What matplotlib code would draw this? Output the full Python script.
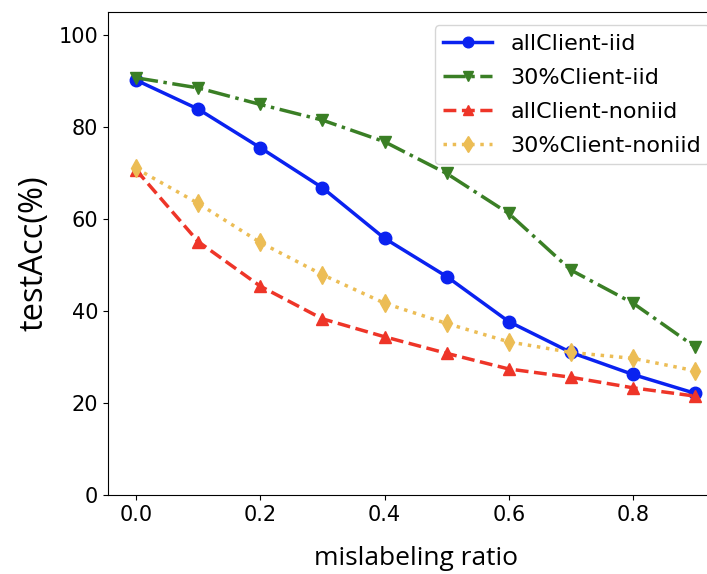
import numpy as np
import matplotlib.pyplot as plt

ratio = [0.0, 0.1, 0.2, 0.3, 0.4, 0.5, 0.6, 0.7, 0.8, 0.9]
all_iid = [90.2, 83.9, 75.5, 66.8, 55.8, 47.5, 37.7, 31.0, 26.2, 22.1]
part_iid = [90.7, 88.5, 84.9, 81.5, 76.8, 69.9, 61.2, 48.9, 41.7, 32.2]
all_noniid = [70.7, 55.1, 45.4, 38.3, 34.4, 30.8, 27.4, 25.6, 23.3, 21.5]
part_noniid = [71.0, 63.4, 54.9, 47.9, 41.7, 37.3, 33.3, 31.0, 29.7, 27.0]

fig = plt.figure(figsize=(7.07, 5.74), dpi=100)
# axes run past the right edge, like the cropped original
ax = fig.add_axes([0.1528, 0.1376, 0.870, 0.8415])

ax.plot(ratio, all_iid, color='#0a22f0', marker='o', ls='-', lw=2.5, ms=9,
        label='allClient-iid')
ax.plot(ratio, part_iid, color='#3a7f25', marker='v', ls='-.', lw=2.5, ms=9,
        label='30%Client-iid')
ax.plot(ratio, all_noniid, color='#ee3528', marker='^', ls='--', lw=2.5, ms=9,
        label='allClient-noniid')
ax.plot(ratio, part_noniid, color='#ecbd55', marker='d', ls=':', lw=2.5, ms=9,
        label='30%Client-noniid')

ax.set_ylim(0, 105)
ax.set_yticks([0, 20, 40, 60, 80, 100])
ax.set_xticks([0.0, 0.2, 0.4, 0.6, 0.8])
ax.tick_params(labelsize=15)
ax.set_xlabel('mislabeling ratio', fontsize=19, family='Open Sans', labelpad=15)
ax.set_ylabel('testAcc(%)', fontsize=23.5, family='Open Sans', labelpad=6)
ax.legend(loc='upper right', fontsize=16, labelspacing=0.62, handlelength=2.2,
          borderaxespad=0.6, markerscale=0.85)

fig.savefig('out.png', dpi=100)
